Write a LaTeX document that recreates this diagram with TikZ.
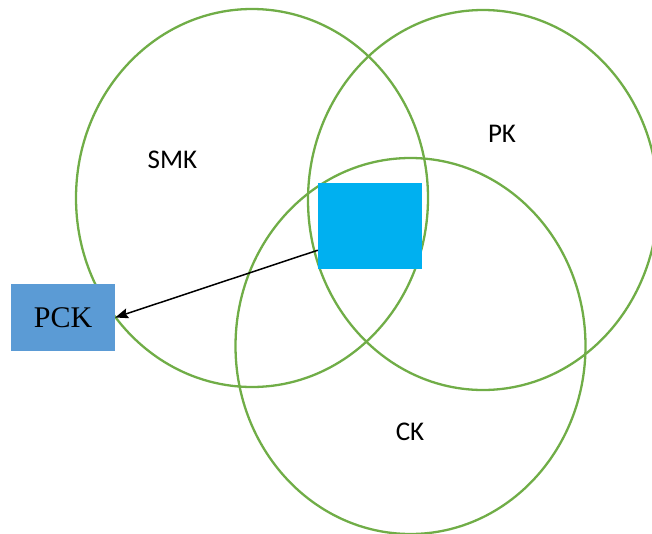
\documentclass[tikz,border=0pt]{standalone}
\usepackage{fontspec}
\setmainfont{Liberation Serif}
\newfontfamily\calib{Carlito}
\usetikzlibrary{shapes.geometric,arrows.meta}
\definecolor{ringgreen}{HTML}{70AD47}
\definecolor{sqblue}{HTML}{00B0F0}
\definecolor{boxblue}{HTML}{5B9BD5}
\tikzset{
  ring/.style={ellipse, draw=ringgreen, line width=2.3pt, inner sep=0pt},
  ringlabel/.style={font=\calib\fontsize{27}{30}\selectfont, inner sep=0pt},
  blocksq/.style={rectangle, fill=sqblue, inner sep=0pt},
  pckbox/.style={rectangle, fill=boxblue, inner sep=0pt, font=\fontsize{30}{33}\selectfont},
  link/.style={line width=1.5pt, -{Stealth[length=13pt,width=10pt,inset=2pt]}}
}
\begin{document}
\begin{tikzpicture}[x=1pt,y=-1pt]
\useasboundingbox (0,0) rectangle (652,533);
\node[ring, minimum width=352pt, minimum height=378pt] (smk) at (252,198) {};
\node[ring, minimum width=350pt, minimum height=380pt] (pk) at (483,200) {};
\node[ring, minimum width=350pt, minimum height=376pt] (ck) at (410.5,346) {};
\node[ringlabel] (smkl) at (172.5,160) {SMK};
\node[ringlabel] (pkl) at (502,134) {PK};
\node[ringlabel] (ckl) at (410,432) {CK};
\node[blocksq, minimum width=104pt, minimum height=86pt] (sq) at (370,226) {};
\node[pckbox, minimum width=104pt, minimum height=67pt] (pck) at (63,317.5) {PCK};
\draw[link] ([yshift=19pt]sq.south west) -- (pck.east);
\end{tikzpicture}
\end{document}
